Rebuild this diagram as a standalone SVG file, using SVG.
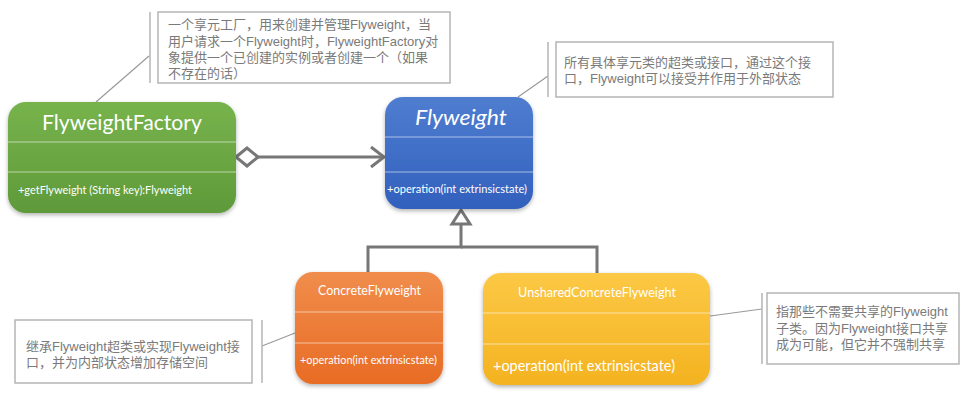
<svg xmlns="http://www.w3.org/2000/svg" width="967" height="400" viewBox="0 0 967 400">
<defs>
<linearGradient id="gGreen" x1="0" y1="0" x2="0" y2="1"><stop offset="0" stop-color="#77b34c"/><stop offset="1" stop-color="#5f9a3a"/></linearGradient>
<linearGradient id="gBlue" x1="0" y1="0" x2="0" y2="1"><stop offset="0" stop-color="#4f7dd0"/><stop offset="1" stop-color="#3160bd"/></linearGradient>
<linearGradient id="gOrange" x1="0" y1="0" x2="0" y2="1"><stop offset="0" stop-color="#f08d4c"/><stop offset="1" stop-color="#e86c24"/></linearGradient>
<linearGradient id="gYellow" x1="0" y1="0" x2="0" y2="1"><stop offset="0" stop-color="#fcc845"/><stop offset="1" stop-color="#f4b321"/></linearGradient>
<filter id="sh" x="-10%" y="-10%" width="120%" height="130%"><feDropShadow dx="0" dy="2" stdDeviation="2" flood-color="#000" flood-opacity="0.3"/></filter>
</defs>
<style>
.box{filter:url(#sh)}
.div{stroke:#ffffff;stroke-opacity:0.55;stroke-width:1}
.t{fill:#ffffff;font-family:"Lato","Liberation Sans",sans-serif}
.note rect{fill:#ffffff;stroke:#b5b5b5;stroke-width:1.5}
.note line{stroke:#b5b5b5;stroke-width:1.5}
.nt{fill:#7a7a7a;font-family:"Liberation Sans","Noto Sans CJK SC",sans-serif;font-size:13px}
.conn{stroke:#777777;stroke-width:3;fill:none}
.nl{stroke:#9a9a9a;stroke-width:1.2;fill:none}
</style>
<rect width="967" height="400" fill="#ffffff"/>

<g id="connectors">
<polygon class="conn" points="236,157 247,148 258,157 247,166" style="fill:#fff"/>
<line class="conn" x1="258" y1="157" x2="384" y2="157"/>
<polyline class="conn" points="371,147 384,157 371,167"/>
<polygon class="conn" points="461,210 452,224 470,224" style="fill:#fff"/>
<polyline class="conn" points="461,224 461,247 368,247 368,272"/>
<polyline class="conn" points="461,247 597,247 597,273"/>
<line class="nl" x1="149" y1="56" x2="96" y2="102"/>
<line class="nl" x1="548" y1="76" x2="518" y2="97"/>
<line class="nl" x1="262" y1="346" x2="295" y2="333"/>
<line class="nl" x1="710" y1="316" x2="762" y2="309"/>
</g>

<g id="note1" class="note">
<line x1="150" y1="12" x2="150" y2="83"/>
<rect x="158" y="12" width="292" height="71"/>
<text class="nt" x="168" y="29">一个享元工厂，用来创建并管理Flyweight，当</text>
<text class="nt" x="168" y="45.5">用户请求一个Flyweight时，FlyweightFactory对</text>
<text class="nt" x="168" y="62">象提供一个已创建的实例或者创建一个（如果</text>
<text class="nt" x="168" y="78">不存在的话）</text>
</g>

<g id="note2" class="note">
<line x1="548" y1="42" x2="548" y2="97"/>
<rect x="556" y="42" width="277" height="55"/>
<text class="nt" x="564" y="67">所有具体享元类的超类或接口，通过这个接</text>
<text class="nt" x="564" y="83">口，Flyweight可以接受并作用于外部状态</text>
</g>

<g id="note3" class="note">
<line x1="262" y1="320" x2="262" y2="383"/>
<rect x="15" y="320" width="237" height="63"/>
<text class="nt" x="26" y="351">继承Flyweight超类或实现Flyweight接</text>
<text class="nt" x="26" y="367">口，并为内部状态增加存储空间</text>
</g>

<g id="note4" class="note">
<line x1="762" y1="293" x2="762" y2="364"/>
<rect x="767" y="293" width="192" height="71"/>
<text class="nt" x="776" y="316">指那些不需要共享的Flyweight</text>
<text class="nt" x="776" y="332.5">子类。因为Flyweight接口共享</text>
<text class="nt" x="776" y="349">成为可能，但它并不强制共享</text>
</g>

<g id="FlyweightFactory">
<rect class="box" x="8" y="102" width="228" height="111" rx="18" fill="url(#gGreen)"/>
<line class="div" x1="8" y1="142" x2="236" y2="142"/>
<line class="div" x1="8" y1="172" x2="236" y2="172"/>
<text class="t" x="42" y="130" font-size="22" textLength="160" lengthAdjust="spacingAndGlyphs">FlyweightFactory</text>
<text class="t" x="18" y="194" font-size="11" textLength="174" lengthAdjust="spacingAndGlyphs">+getFlyweight (String key):Flyweight</text>
</g>

<g id="Flyweight">
<rect class="box" x="385" y="97" width="148" height="112" rx="18" fill="url(#gBlue)"/>
<line class="div" x1="385" y1="137" x2="533" y2="137"/>
<line class="div" x1="385" y1="172" x2="533" y2="172"/>
<text class="t" x="415" y="125" font-size="22" font-style="italic" textLength="92" lengthAdjust="spacingAndGlyphs">Flyweight</text>
<text class="t" x="387" y="193" font-size="11" textLength="140" lengthAdjust="spacingAndGlyphs">+operation(int extrinsicstate)</text>
</g>

<g id="ConcreteFlyweight">
<rect class="box" x="295" y="272" width="148" height="112" rx="18" fill="url(#gOrange)"/>
<line class="div" x1="295" y1="312" x2="443" y2="312"/>
<line class="div" x1="295" y1="343" x2="443" y2="343"/>
<text class="t" x="318" y="295" font-size="13" textLength="103" lengthAdjust="spacingAndGlyphs">ConcreteFlyweight</text>
<text class="t" x="300" y="364" font-size="11" textLength="137" lengthAdjust="spacingAndGlyphs">+operation(int extrinsicstate)</text>
</g>

<g id="UnsharedConcreteFlyweight">
<rect class="box" x="483" y="273" width="227" height="112" rx="18" fill="url(#gYellow)"/>
<line class="div" x1="483" y1="313" x2="710" y2="313"/>
<line class="div" x1="483" y1="344" x2="710" y2="344"/>
<text class="t" x="518" y="297" font-size="13" textLength="158" lengthAdjust="spacingAndGlyphs">UnsharedConcreteFlyweight</text>
<text class="t" x="493" y="371" font-size="15" textLength="182" lengthAdjust="spacingAndGlyphs">+operation(int extrinsicstate)</text>
</g>
</svg>
